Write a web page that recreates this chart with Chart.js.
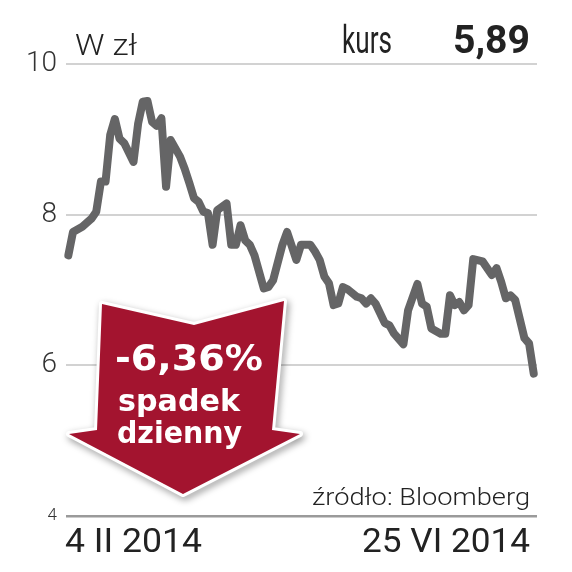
<!DOCTYPE html>
<html>
<head>
<meta charset="utf-8">
<script src="https://cdn.jsdelivr.net/npm/chart.js@4.4.1/dist/chart.umd.min.js"></script>
<style>
  html, body { margin: 0; padding: 0; background: #fff; }
  canvas { display: block; }
</style>
</head>
<body>
<canvas id="chart" width="572" height="572"></canvas>
<script>
// trading day index (0 = 4 II 2014, 100 = 25 VI 2014) and closing price in zł
const days = [0, 1, 3, 5, 6, 7, 8, 9, 10, 11, 12, 14, 15, 16, 17, 18, 19, 20, 21, 22,
  24, 25, 26, 27, 28, 29, 30, 31, 32, 34, 35, 36, 37, 38, 39, 40, 42, 43, 44, 46,
  47, 49, 50, 52, 53, 54, 55, 56, 57, 58, 59, 60, 62, 63, 64, 65, 66, 68, 69, 70,
  72, 73, 75, 76, 77, 78, 80, 81, 82, 83, 84, 85, 86, 87, 89, 91, 92, 93, 94, 95,
  96, 98, 99, 100];
const prices = [7.46, 7.77, 7.84, 7.95, 8.04, 8.44, 8.44, 9.06, 9.27, 9.01, 8.95, 8.70, 9.21, 9.50, 9.51, 9.23, 9.18, 9.28, 8.37, 8.99,
  8.77, 8.61, 8.42, 8.22, 8.17, 8.04, 8.02, 7.60, 8.06, 8.15, 7.60, 7.60, 7.86, 7.66, 7.60, 7.46, 7.02, 7.04, 7.13, 7.60,
  7.77, 7.40, 7.60, 7.60, 7.51, 7.40, 7.18, 7.09, 6.80, 6.82, 7.04, 7.01, 6.91, 6.89, 6.82, 6.89, 6.82, 6.56, 6.53, 6.42,
  6.28, 6.73, 7.08, 6.82, 6.78, 6.49, 6.42, 6.42, 6.93, 6.80, 6.84, 6.73, 6.80, 7.41, 7.38, 7.20, 7.29, 7.11, 6.89, 6.93,
  6.87, 6.36, 6.29, 5.89];
const yTicks = [4, 6, 8, 10];
const dateLabels = ["4 II 2014", "25 VI 2014"];
const lastPrice = "5,89";
const dailyChange = "-6,36%";

// text squeezed/stretched to a given width
function fitText(ctx, str, x, y, font, align, width) {
  ctx.save();
  ctx.font = font;
  const w = ctx.measureText(str).width;
  ctx.translate(x, y);
  ctx.scale(width / w, 1);
  ctx.textAlign = align;
  ctx.textBaseline = "alphabetic";
  ctx.fillText(str, 0, 0);
  ctx.restore();
}

const overlay = {
  id: "overlay",
  afterDraw(chart) {
    const ctx = chart.ctx;
    ctx.save();
    ctx.fillStyle = "#222";
    fitText(ctx, "W zł", 75, 55, "300 29px Roboto", "left", 62);
    fitText(ctx, "kurs", 342, 53, "400 39px Roboto", "left", 50);
    fitText(ctx, lastPrice, 530, 53, "700 39px Roboto", "right", 77);
    fitText(ctx, "źródło: Bloomberg", 530, 505, "300 24px Roboto", "right", 218);
    fitText(ctx, dateLabels[0], 65, 552, "400 34px Roboto", "left", 137);
    fitText(ctx, dateLabels[1], 530, 552, "400 34px Roboto", "right", 168);

    // red arrow
    const pts = [[102, 304], [194, 325], [284, 301], [272, 430], [300, 434],
      [183, 494], [69, 434], [97, 430]];
    ctx.beginPath();
    pts.forEach((p, i) => (i ? ctx.lineTo(p[0], p[1]) : ctx.moveTo(p[0], p[1])));
    ctx.closePath();
    ctx.lineJoin = "round";
    ctx.shadowColor = "rgba(0,0,0,0.4)";
    ctx.shadowBlur = 7;
    ctx.shadowOffsetX = 2;
    ctx.shadowOffsetY = 3;
    ctx.strokeStyle = "#fff";
    ctx.lineWidth = 6;
    ctx.stroke();
    ctx.shadowColor = "transparent";
    ctx.fillStyle = "#a3142f";
    ctx.fill();

    ctx.fillStyle = "#fff";
    fitText(ctx, dailyChange, 115, 370, "bold 36px 'DejaVu Sans'", "left", 148);
    fitText(ctx, "spadek", 118, 411, "bold 31px 'DejaVu Sans'", "left", 122);
    fitText(ctx, "dzienny", 117, 443, "bold 31px 'DejaVu Sans'", "left", 125);
    ctx.restore();
  }
};

new Chart(document.getElementById("chart"), {
  type: "line",
  data: {
    datasets: [{
      data: days.map((d, i) => ({ x: d, y: prices[i] })),
      borderColor: "#656566",
      borderWidth: 8,
      borderJoinStyle: "round",
      borderCapStyle: "round",
      pointRadius: 0,
      tension: 0,
      clip: false
    }]
  },
  options: {
    responsive: false,
    animation: false,
    events: [],
    layout: { padding: { top: 64, right: 35, bottom: 56, left: 0 } },
    plugins: { legend: { display: false }, tooltip: { enabled: false } },
    scales: {
      x: { type: "linear", min: -0.5, max: 100.7, display: false },
      y: {
        min: 4,
        max: 10,
        afterFit: (scale) => { scale.width = 66; },
        afterBuildTicks: (scale) => { scale.ticks = yTicks.map((v) => ({ value: v })); },
        border: { display: false },
        grid: {
          drawTicks: false,
          color: (c) => (c.tick && c.tick.value === 4 ? "#9a9a9a" : "#d2d2d2"),
          lineWidth: (c) => (c.tick && c.tick.value === 4 ? 2.5 : 2)
        },
        ticks: {
          padding: 9,
          color: "#333",
          font: (c) => ({ family: "Roboto", weight: "300", size: c.tick && c.tick.value === 4 ? 17 : 28 })
        }
      }
    }
  },
  plugins: [overlay]
});
</script>
</body>
</html>
